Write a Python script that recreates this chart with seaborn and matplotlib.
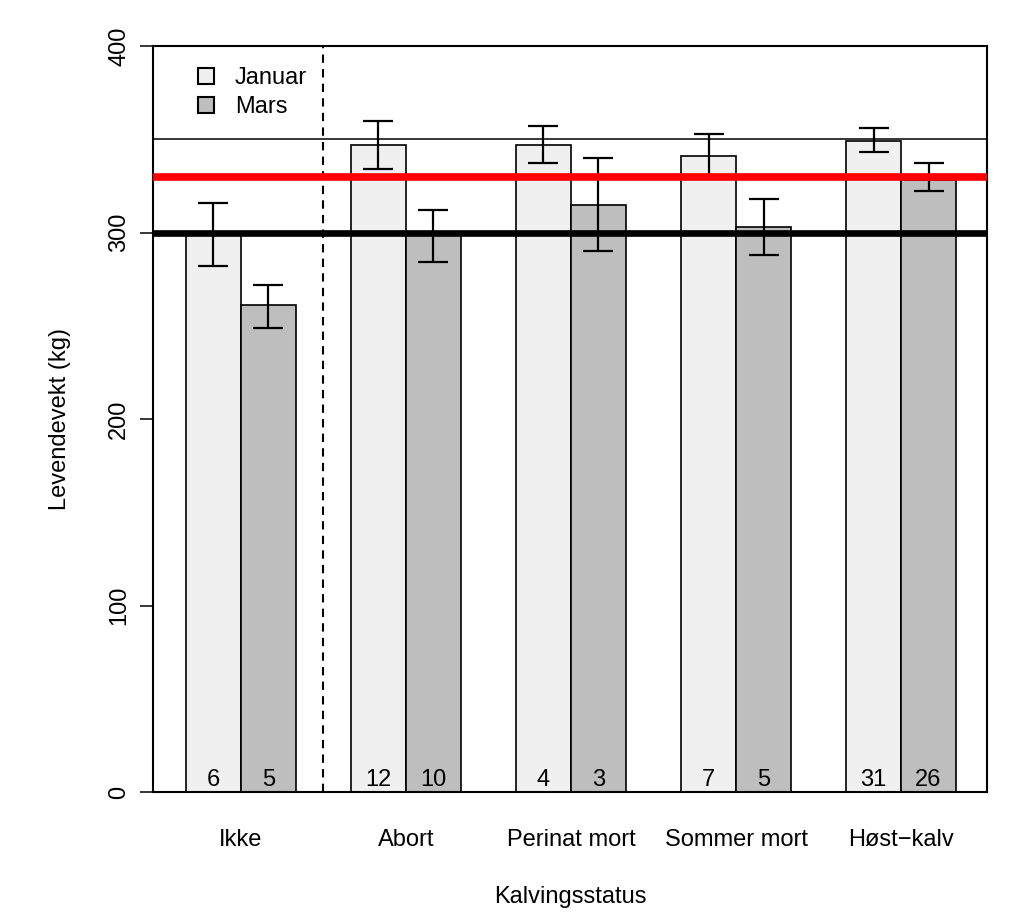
import numpy as np
import pandas as pd
import matplotlib
matplotlib.use("Agg")
import matplotlib.pyplot as plt
import seaborn as sns
from matplotlib.patches import Patch
import matplotlib.transforms as mtransforms

# ---- data ----
categories = ["Ikke", "Abort", "Perinat mort", "Sommer mort", "Høst\u2212kalv"]
months = ["Januar", "Mars"]
jan_mean = [300, 347, 347, 341, 349]
jan_lower = [282, 334, 337, 330, 343]
jan_upper = [316, 360, 357, 353, 356]
mar_mean = [261, 299, 315, 303, 328]
mar_lower = [249, 284, 290, 288, 322]
mar_upper = [272, 312, 340, 318, 337]
jan_n = [6, 12, 4, 7, 31]
mar_n = [5, 10, 3, 5, 26]
ref_thin = 350
ref_red = 330
ref_black = 300
y_ticks = [0, 100, 200, 300, 400]

df = pd.DataFrame({
    "Kalvingsstatus": categories * 2,
    "Måned": [months[0]] * len(categories) + [months[1]] * len(categories),
    "Levendevekt": jan_mean + mar_mean,
})

sns.set_theme(style="white")
plt.rcParams["font.family"] = ["Liberation Sans", "DejaVu Sans"]
plt.rcParams["font.size"] = 17
plt.rcParams["text.color"] = "black"
plt.rcParams["axes.labelcolor"] = "black"
plt.rcParams["xtick.color"] = "black"
plt.rcParams["ytick.color"] = "black"

fig = plt.figure(figsize=(10.24, 9.15), dpi=100)
ax = fig.add_axes([153 / 1024, 1 - 792 / 915, (987 - 153) / 1024, (792 - 46) / 915])

colors = {"Januar": "#F0F0F0", "Mars": "#BEBEBE"}
sns.barplot(data=df, x="Kalvingsstatus", y="Levendevekt", hue="Måned",
            order=categories, hue_order=months, palette=colors,
            width=2 / 3, gap=0, edgecolor="black", linewidth=1.2,
            errorbar=None, saturation=1, legend=False, ax=ax)

# error bars and counts at the bar centres
for cont, mean, lo, hi, ns in zip(ax.containers,
                                  [jan_mean, mar_mean],
                                  [jan_lower, mar_lower],
                                  [jan_upper, mar_upper],
                                  [jan_n, mar_n]):
    xs = [p.get_x() + p.get_width() / 2 for p in cont.patches]
    mean = np.array(mean)
    ax.errorbar(xs, mean, yerr=[mean - np.array(lo), np.array(hi) - mean],
                fmt="none", ecolor="black", elinewidth=1.6, capsize=10.5,
                capthick=1.6, zorder=4)
    trans = mtransforms.blended_transform_factory(ax.transData, ax.transAxes)
    for x, n in zip(xs, ns):
        ax.text(x, 0.016, str(n), transform=trans, ha="center", va="center",
                fontsize=17, color="black", zorder=5)

# reference lines
ax.axhline(ref_thin, color="black", lw=1.1, zorder=5)
ax.axhline(ref_red, color="#FF0000", lw=5.5, zorder=6)
ax.axhline(ref_black, color="black", lw=4.8, zorder=6)
ax.axvline(0.5, color="black", lw=1.5, ls=(0, (4, 3)), zorder=3)

ax.set_xlim(-0.533, 4.521)
ax.set_ylim(0, 400)
ax.set_yticks(y_ticks)
ax.set_yticklabels([str(t) for t in y_ticks], rotation=90, va="center")
ax.tick_params(axis="y", left=True, length=9.5, width=1.1, pad=7,
               labelsize=17, color="black", labelcolor="black")
ax.tick_params(axis="x", bottom=False, length=0, pad=27, labelsize=17,
               labelcolor="black")
for s in ax.spines.values():
    s.set_color("black")
    s.set_linewidth(1.5)

ax.set_xlabel("Kalvingsstatus", fontsize=17, labelpad=25, color="black")
ax.set_ylabel("Levendevekt (kg)", fontsize=17, labelpad=27, color="black")

handles = [Patch(facecolor=colors[m], edgecolor="black", linewidth=1.5, label=m)
           for m in months]
leg = ax.legend(handles=handles, loc="upper left", bbox_to_anchor=(0.028, 1.0),
                frameon=False, handlelength=0.68, handleheight=0.68,
                handletextpad=0.9, labelspacing=0.3, fontsize=17)
for t in leg.get_texts():
    t.set_color("black")

fig.savefig("out.png", dpi=100)
